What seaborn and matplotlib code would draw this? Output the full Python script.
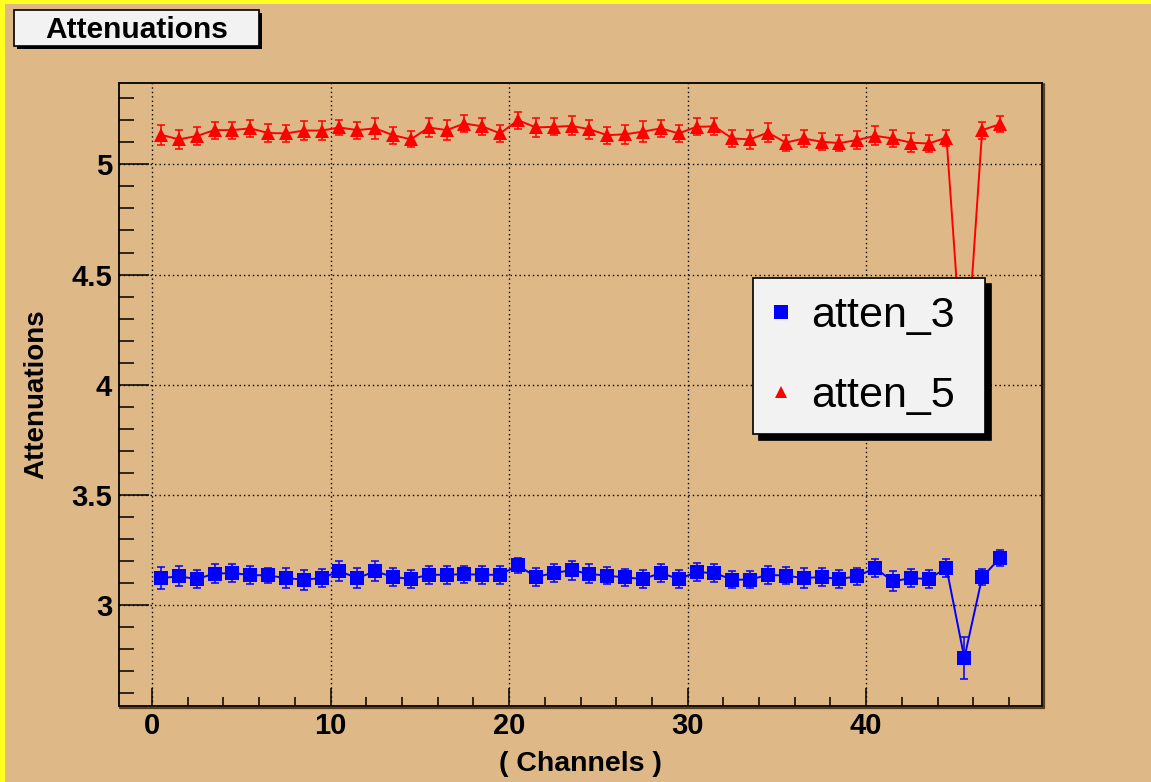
import numpy as np
import pandas as pd
import matplotlib
matplotlib.use("Agg")
import matplotlib.pyplot as plt
from matplotlib.patches import Rectangle
from matplotlib.lines import Line2D
from matplotlib.ticker import FixedLocator, MultipleLocator, FuncFormatter
import seaborn as sns

# ---- data -------------------------------------------------------------
channels = np.arange(48) + 0.5

atten_3 = [3.121, 3.129, 3.117, 3.141, 3.144, 3.135, 3.133, 3.121, 3.114, 3.121,
           3.152, 3.121, 3.152, 3.126, 3.117, 3.136, 3.136, 3.139, 3.136, 3.136,
           3.179, 3.126, 3.144, 3.157, 3.140, 3.132, 3.124, 3.117, 3.144, 3.117,
           3.148, 3.144, 3.114, 3.114, 3.136, 3.132, 3.121, 3.126, 3.117, 3.129,
           3.167, 3.106, 3.121, 3.117, 3.167, 2.758, 3.126, 3.212]
err_3 = [0.050, 0.045, 0.040, 0.042, 0.040, 0.042, 0.035, 0.045, 0.045, 0.042,
         0.045, 0.045, 0.045, 0.042, 0.040, 0.040, 0.040, 0.038, 0.040, 0.040,
         0.035, 0.040, 0.040, 0.043, 0.043, 0.040, 0.040, 0.043, 0.040, 0.042,
         0.040, 0.040, 0.040, 0.040, 0.040, 0.040, 0.045, 0.040, 0.040, 0.040,
         0.040, 0.045, 0.040, 0.040, 0.040, 0.095, 0.035, 0.035]

atten_5 = [5.135, 5.114, 5.129, 5.156, 5.156, 5.164, 5.143, 5.141, 5.154, 5.154,
           5.168, 5.156, 5.164, 5.133, 5.114, 5.168, 5.156, 5.186, 5.173, 5.141,
           5.201, 5.168, 5.171, 5.175, 5.160, 5.133, 5.137, 5.149, 5.164, 5.141,
           5.171, 5.173, 5.118, 5.114, 5.145, 5.099, 5.118, 5.103, 5.097, 5.111,
           5.130, 5.118, 5.099, 5.095, 5.122, 3.970, 5.156, 5.183]
err_5 = [0.045, 0.043, 0.042, 0.039, 0.039, 0.039, 0.042, 0.039, 0.042, 0.042,
         0.036, 0.039, 0.047, 0.039, 0.036, 0.043, 0.047, 0.039, 0.038, 0.039,
         0.039, 0.043, 0.039, 0.043, 0.043, 0.039, 0.043, 0.047, 0.039, 0.039,
         0.039, 0.038, 0.039, 0.043, 0.043, 0.036, 0.039, 0.039, 0.038, 0.039,
         0.043, 0.039, 0.043, 0.039, 0.036, 0.040, 0.039, 0.036]

y_ticks = [3.0, 3.5, 4.0, 4.5, 5.0]
x_ticks = [0, 10, 20, 30, 40]

df3 = pd.DataFrame({"channel": channels, "atten": atten_3, "err": err_3})
df5 = pd.DataFrame({"channel": channels, "atten": atten_5, "err": err_5})

# ---- style ------------------------------------------------------------
sns.set_theme(style="ticks")
plt.rcParams["font.family"] = ["Liberation Sans", "DejaVu Sans"]
plt.rcParams["text.color"] = "black"
plt.rcParams["axes.labelcolor"] = "black"

W, H = 1151, 782
BG = "#DEB887"
PANEL = "#F2F2F2"


def fx(px):
    return px / W


def fy(py):
    return 1 - py / H


fig = plt.figure(figsize=(W / 100, H / 100), dpi=100, facecolor=BG)
ax = fig.add_axes([fx(119), fy(706), fx(1042) - fx(119), fy(83) - fy(706)])
ax.set_facecolor(BG)

ax.set_xlim(-1.85, 49.85)
ax.set_ylim(2.54, 5.37)

# grid at major ticks
ax.grid(True, which="major", color="black", linestyle=(0, (1, 2.2)), linewidth=1.0)
ax.set_axisbelow(True)

# error bars under the curves
for d, c in ((df3, "blue"), (df5, "red")):
    ax.errorbar(d["channel"], d["atten"], yerr=d["err"], fmt="none",
                ecolor=c, elinewidth=1.1, capsize=3.2, capthick=1.1, zorder=2)

sns.lineplot(data=df3, x="channel", y="atten", ax=ax, color="blue",
             linewidth=1.4, marker="s", markersize=10.5, markeredgewidth=0,
             legend=False, zorder=3, sort=True)
sns.lineplot(data=df5, x="channel", y="atten", ax=ax, color="red",
             linewidth=1.4, marker="^", markersize=9.5, markeredgewidth=0,
             legend=False, zorder=3, sort=True)

# axes ticks
ax.xaxis.set_major_locator(FixedLocator(x_ticks))
ax.xaxis.set_minor_locator(MultipleLocator(2))
ax.yaxis.set_major_locator(FixedLocator(y_ticks))
ax.yaxis.set_minor_locator(MultipleLocator(0.1))
ax.yaxis.set_major_formatter(FuncFormatter(lambda v, p: f"{v:g}"))
ax.xaxis.set_major_formatter(FuncFormatter(lambda v, p: f"{v:g}"))

ax.tick_params(axis="y", which="major", direction="in", length=21.5, width=1.1,
               color="black", labelcolor="black", pad=5, labelsize=21)
ax.tick_params(axis="y", which="minor", direction="in", length=10.8, width=1.1,
               color="black")
ax.tick_params(axis="x", which="major", direction="in", length=13, width=1.1,
               color="black", labelcolor="black", pad=4, labelsize=21)
ax.tick_params(axis="x", which="minor", direction="in", length=6.5, width=1.1,
               color="black")
for lab in ax.get_xticklabels() + ax.get_yticklabels():
    lab.set_fontweight("bold")

for s in ax.spines.values():
    s.set_color("black")
    s.set_linewidth(1.3)

ax.set_xlabel("( Channels )", fontsize=20.5, fontweight="bold", color="black")
ax.xaxis.label.set_va("center")
ax.xaxis.set_label_coords(0.5, (706 - 764) / 623)
ax.set_ylabel("Attenuations", fontsize=20, fontweight="bold", color="black")
ax.yaxis.label.set_va("center")
ax.yaxis.set_label_coords((36 - 119) / 923, 0.5)

# frame shading on the right and bottom edges
fig.add_artist(Line2D([fx(120), fx(1044)], [fy(707.5), fy(707.5)],
                      color="#5a4020", linewidth=1.6))
fig.add_artist(Line2D([fx(1043.5), fx(1043.5)], [fy(84), fy(707.5)],
                      color="#5a4020", linewidth=1.6))

# legend box
handles = [Line2D([], [], linestyle="none", marker="s", markersize=9.5,
                  color="blue", markeredgewidth=0, label="atten_3"),
           Line2D([], [], linestyle="none", marker="^", markersize=9,
                  color="red", markeredgewidth=0, label="atten_5")]
leg = ax.legend(handles=handles, loc="upper left", mode="expand",
                bbox_to_anchor=(fx(753), fy(433), fx(985) - fx(753), fy(278) - fy(433)),
                bbox_transform=fig.transFigure,
                borderaxespad=0, frameon=True, fancybox=False,
                facecolor=PANEL, edgecolor="black", framealpha=1,
                fontsize=31, handlelength=0.47, handletextpad=0.45,
                borderpad=0.42, labelspacing=0.92,
                shadow={"ox": 4.5, "oy": -4.5, "color": "black", "alpha": 1})
leg.get_frame().set_linewidth(1.2)
for t in leg.get_texts():
    t.set_color("black")
leg.set_zorder(10)

# title box
fig.add_artist(Rectangle((fx(17), fy(49)), fx(259) - fx(14), fy(10) - fy(46),
                         transform=fig.transFigure, facecolor="black",
                         edgecolor="none"))
fig.add_artist(Rectangle((fx(14), fy(46)), fx(259) - fx(14), fy(10) - fy(46),
                         transform=fig.transFigure, facecolor=PANEL,
                         edgecolor="black", linewidth=1.2))
fig.text(fx(136.5), fy(29.5), "Attenuations", ha="center", va="center",
         fontsize=21.5, fontweight="bold", color="black")

# outer highlight on the top and left borders
fig.add_artist(Rectangle((0, fy(4)), 1, fy(0) - fy(4), transform=fig.transFigure,
                         facecolor="#FFFF20", edgecolor="none"))
fig.add_artist(Rectangle((0, 0), fx(5), 1, transform=fig.transFigure,
                         facecolor="#FFFF20", edgecolor="none"))

fig.savefig("out.png", dpi=100, facecolor=BG)
